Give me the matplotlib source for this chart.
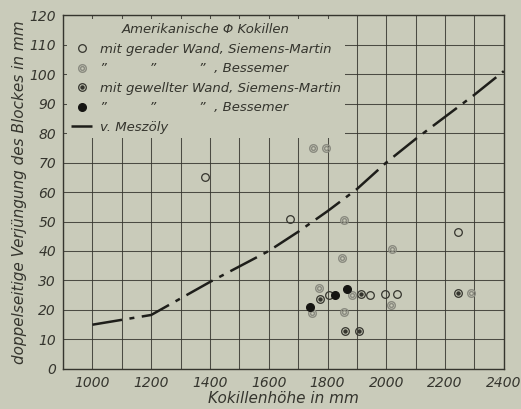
import matplotlib.pyplot as plt
from matplotlib.lines import Line2D
from matplotlib.legend_handler import HandlerTuple

paper = '#c9cbba'
ink = '#35352e'
grey = '#8a8b80'

# v. Meszöly curve
mesz_x = [1000, 1200, 1400, 1600, 1700, 1800, 1900, 2000, 2100, 2200, 2300, 2400]
mesz_y = [15, 18.3, 29.5, 40, 46.5, 53.5, 61, 70, 78, 85.5, 93, 101]

# gerade Wand, Siemens-Martin (open ring)
gsm_x = [1384, 1672, 1804, 1946, 1995, 2036, 2245]
gsm_y = [65, 50.7, 25.2, 25.1, 25.4, 25.3, 46.4]
# gerade Wand, Bessemer (double ring, grey)
gb_x = [1749, 1794, 1856, 1848, 2019, 1771, 1884, 1856, 2015, 2289, 1746]
gb_y = [75, 75, 50.5, 37.7, 40.6, 27.4, 25.2, 19.3, 21.7, 25.6, 18.9]
# gewellte Wand, Siemens-Martin (ring with dot)
wsm_x = [1775, 1915, 1861, 1906, 2245]
wsm_y = [23.6, 25.4, 12.9, 12.9, 25.8]
# gewellte Wand, Bessemer (filled)
wb_x = [1867, 1824, 1741]
wb_y = [27.1, 25, 21.1]

plt.rcParams['font.family'] = 'DejaVu Sans'
plt.rcParams['font.style'] = 'italic'

fig = plt.figure(figsize=(5.21, 4.09), dpi=100, facecolor=paper)
ax = fig.add_axes([0.121, 0.098, 0.846, 0.865], facecolor=paper)

ax.set_xlim(900, 2400)
ax.set_ylim(0, 120)
ax.set_xticks(range(900, 2401, 100), minor=True)
ax.set_xticks(range(1000, 2401, 200))
ax.set_yticks(range(0, 121, 10))
ax.grid(True, which='both', color=ink, lw=0.75, alpha=0.85)
ax.set_axisbelow(True)
for s in ax.spines.values():
    s.set_color(ink)
    s.set_linewidth(1.0)
ax.tick_params(which='both', length=0, colors=ink, labelsize=10, pad=5)

ax.plot(mesz_x, mesz_y, color='#1e1e1a', lw=1.8, dashes=(12, 3, 2, 3))

ms = 5.5
ax.plot(gsm_x, gsm_y, 'o', ms=ms, mfc='none', mec=ink, mew=0.9)
ax.plot(gb_x, gb_y, 'o', ms=ms, mfc='none', mec=grey, mew=1.0)
ax.plot(gb_x, gb_y, 'o', ms=ms * 0.5, mfc='none', mec=grey, mew=1.0)
ax.plot(wsm_x, wsm_y, 'o', ms=ms, mfc='none', mec=ink, mew=0.9)
ax.plot(wsm_x, wsm_y, 'o', ms=ms * 0.4, mfc=ink, mec=ink)
ax.plot(wb_x, wb_y, 'o', ms=ms, mfc='#151512', mec='#151512')

h_gsm = Line2D([], [], ls='none', marker='o', ms=ms, mfc='none', mec=ink, mew=0.9)
h_gb = (Line2D([], [], ls='none', marker='o', ms=ms, mfc='none', mec=grey, mew=1.0),
        Line2D([], [], ls='none', marker='o', ms=ms * 0.5, mfc='none', mec=grey, mew=1.0))
h_wsm = (Line2D([], [], ls='none', marker='o', ms=ms, mfc='none', mec=ink, mew=0.9),
         Line2D([], [], ls='none', marker='o', ms=ms * 0.4, mfc=ink, mec=ink))
h_wb = Line2D([], [], ls='none', marker='o', ms=ms, mfc='#151512', mec='#151512')
h_m = Line2D([], [], color='#1e1e1a', lw=1.8, dashes=(12, 3, 2, 3))

labels = ['mit gerader Wand, Siemens-Martin',
          '\u201d          \u201d          \u201d  , Bessemer',
          'mit gewellter Wand, Siemens-Martin',
          '\u201d          \u201d          \u201d  , Bessemer',
          'v. Meszöly']
leg = ax.legend([h_gsm, h_gb, h_wsm, h_wb, h_m], labels,
                handler_map={tuple: HandlerTuple(ndivide=1, pad=0)},
                title='Amerikanische \u03a6 Kokillen', loc='upper left',
                fontsize=9.5, title_fontsize=9.5, frameon=True, facecolor=paper,
                edgecolor='none', framealpha=1, borderpad=0.3, labelspacing=0.5,
                handlelength=1.6, handletextpad=0.6, borderaxespad=0.3)
leg.get_frame().set_boxstyle('square', pad=0)
for t in leg.get_texts():
    t.set_color(ink)
leg.get_title().set_color(ink)

ax.set_xlabel('Kokillenhöhe in mm', fontsize=11, color=ink, labelpad=1)
ax.set_ylabel('doppelseitige Verjüngung des Blockes in mm', fontsize=11, color=ink, labelpad=2)

fig.savefig('out.png', dpi=100, facecolor=paper)
